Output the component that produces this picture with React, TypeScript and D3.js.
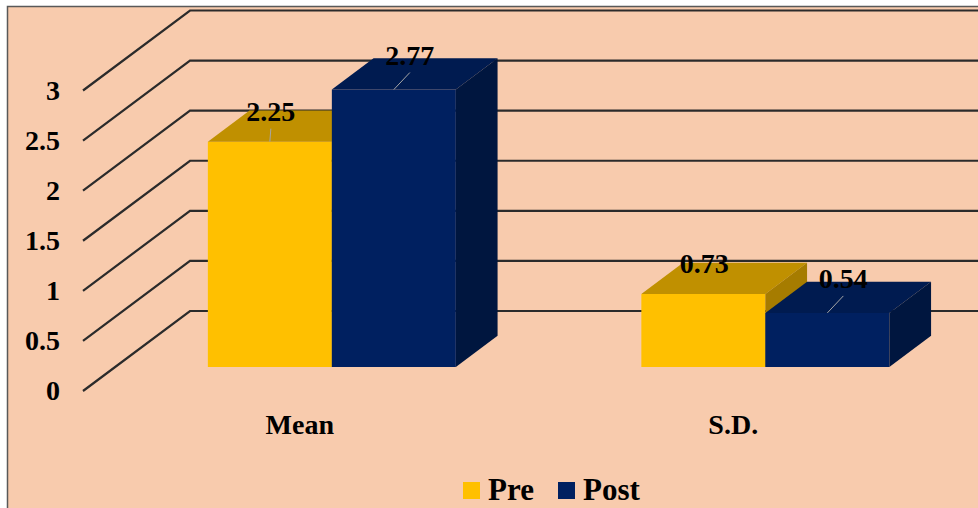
import React from "react";
import * as d3 from "d3";

const categories = ["Mean", "S.D."];
const seriesNames = ["Pre", "Post"];
const preValues = [2.25, 0.73];
const postValues = [2.77, 0.54];
const yTicks = [0, 0.5, 1, 1.5, 2, 2.5, 3];

const W = 978;
const H = 508;
const FONT = "'Times New Roman', 'Liberation Serif', serif";

const palette: Record<string, { front: string; top: string; side: string }> = {
  Pre: { front: "#FFC000", top: "#C09000", side: "#A67C00" },
  Post: { front: "#002060", top: "#001B50", side: "#00163F" },
};

// label nudges (Excel moved them by hand)
const labelShift: Record<string, { dx: number; dy: number }> = {
  Pre: { dx: 1, dy: -21 },
  Post: { dx: 16, dy: -25 },
};

// 3d wall depth
const DX = 107;
const DY = -80;
const BAR_FRONT = 0.3;
const BAR_BACK = 0.69;

const proj = (x: number, y: number, d: number): [number, number] => [x + DX * d, y + DY * d];
const poly = (pts: [number, number][]) => "M" + pts.map((p) => p.join(",")).join("L") + "Z";

const App = () => {
  const y = d3.scaleLinear().domain([0, 3]).range([391, 90.5]);
  const x = d3.scaleBand().domain(categories).range([83, 950]).paddingInner(0).paddingOuter(0);
  const xs = d3
    .scaleBand()
    .domain(seriesNames)
    .range([0, x.bandwidth()])
    .paddingInner(0)
    .paddingOuter(0.748);

  const series = [
    { name: "Pre", values: preValues },
    { name: "Post", values: postValues },
  ];

  const axisX = x.range()[0];

  return (
    <svg
      width={W}
      height={H}
      style={{ position: "absolute", left: 0, top: 0, display: "block", background: "#fff" }}
    >
      <rect x={7.5} y={6.5} width={W + 20} height={H + 20} fill="#F8CBAD" stroke="#595959" strokeWidth={1.5} />

      {/* walls */}
      {yTicks.map((t) => {
        const a = proj(axisX, y(t), 0);
        const b = proj(axisX, y(t), 1);
        return (
          <path
            key={"g" + t}
            d={`M${a[0]},${a[1]}L${b[0]},${b[1]}L${W + 10},${b[1]}`}
            fill="none"
            stroke="#2b2b2b"
            strokeWidth={2.2}
          />
        );
      })}

      {yTicks.map((t) => (
        <text
          key={"t" + t}
          x={60}
          y={y(t) + 9}
          textAnchor="end"
          fontFamily={FONT}
          fontWeight="bold"
          fontSize={28}
          fill="#000"
        >
          {t}
        </text>
      ))}

      {/* bars */}
      {categories.map((c, ci) =>
        series.map((s) => {
          const v = s.values[ci];
          const x0 = (x(c) as number) + (xs(s.name) as number);
          const x1 = x0 + xs.bandwidth();
          const col = palette[s.name];
          const fTL = proj(x0, y(v), BAR_FRONT);
          const fTR = proj(x1, y(v), BAR_FRONT);
          const fBR = proj(x1, y(0), BAR_FRONT);
          const fBL = proj(x0, y(0), BAR_FRONT);
          const bTL = proj(x0, y(v), BAR_BACK);
          const bTR = proj(x1, y(v), BAR_BACK);
          const bBR = proj(x1, y(0), BAR_BACK);
          return (
            <g key={c + s.name}>
              <path d={poly([fTL, fTR, fBR, fBL])} fill={col.front} />
              <path d={poly([fTL, bTL, bTR, fTR])} fill={col.top} />
              <path d={poly([fTR, bTR, bBR, fBR])} fill={col.side} />
            </g>
          );
        })
      )}

      {/* data labels */}
      {categories.map((c, ci) =>
        series.map((s) => {
          const v = s.values[ci];
          const x0 = (x(c) as number) + (xs(s.name) as number);
          const top = proj(x0 + xs.bandwidth() / 2, y(v), BAR_FRONT);
          const sh = labelShift[s.name];
          const lx = top[0] + sh.dx;
          const ly = top[1] + sh.dy;
          // leader only when the label sits well clear of the bar
          const showLeader = s.name === "Post" || v > 1;
          return (
            <g key={"l" + c + s.name}>
              {showLeader && (
                <line x1={top[0]} y1={top[1]} x2={lx} y2={ly + 8} stroke="#a6a6a6" strokeWidth={1} />
              )}
              <text
                x={lx}
                y={ly}
                textAnchor="middle"
                fontFamily={FONT}
                fontWeight="bold"
                fontSize={28}
                fill="#000"
              >
                {v}
              </text>
            </g>
          );
        })
      )}

      {/* category labels */}
      {categories.map((c) => (
        <text
          key={"c" + c}
          x={(x(c) as number) + x.bandwidth() / 2}
          y={434}
          textAnchor="middle"
          fontFamily={FONT}
          fontWeight="bold"
          fontSize={28}
          fill="#000"
        >
          {c}
        </text>
      ))}

      {/* legend */}
      <g>
        {seriesNames.map((n, i) => {
          const lx = i === 0 ? 463 : 558;
          return (
            <g key={"lg" + n}>
              <rect x={lx} y={482} width={17} height={17} fill={palette[n].front} />
              <text x={lx + 25} y={500} fontFamily={FONT} fontWeight="bold" fontSize={31} fill="#000">
                {n}
              </text>
            </g>
          );
        })}
      </g>
    </svg>
  );
};

export default App;
